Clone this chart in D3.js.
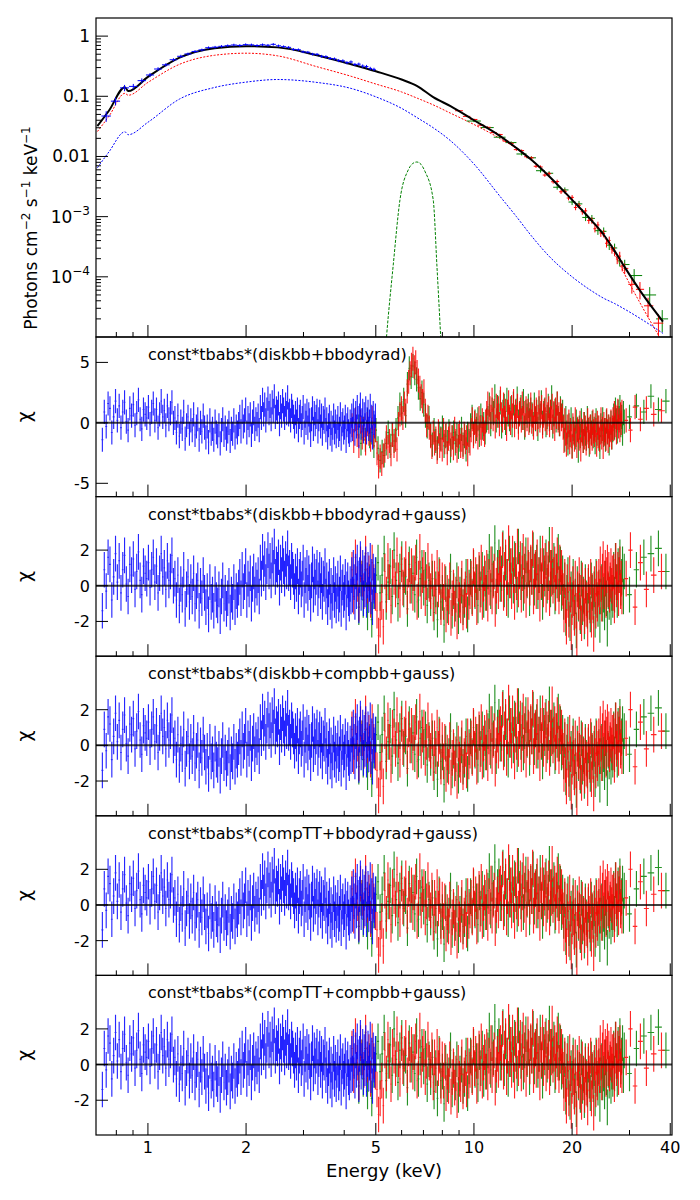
<!DOCTYPE html>
<html>
<head>
<meta charset="utf-8">
<script src="https://cdn.jsdelivr.net/npm/d3@7"></script>
<style>
  body { margin: 0; background: #fff; }
  svg { font-family: "DejaVu Sans", sans-serif; }
</style>
</head>
<body>
<div id="chart"></div>
<script>
// model components (keV, photons cm-2 s-1 keV-1)
const modelE = [0.7, 0.76, 0.85, 0.87, 1.0, 1.25, 1.6, 2.0, 2.5, 3.3, 4.2, 5.0, 6.0, 6.7, 7.5, 8.5, 10, 12, 13.5, 15, 17, 20, 23, 25, 27, 29, 33, 38];
const modelTotal = [0.032, 0.058, 0.142, 0.122, 0.21, 0.44, 0.63, 0.68, 0.65, 0.48, 0.34, 0.26, 0.19, 0.148, 0.097, 0.068, 0.040, 0.022, 0.0138, 0.0088, 0.0047, 0.0019, 0.00085, 0.0005, 0.00027, 0.000145, 0.00005, 0.000018];
const modelDisk = [0.026, 0.047, 0.112, 0.104, 0.17, 0.34, 0.48, 0.52, 0.47, 0.31, 0.215, 0.16, 0.118, 0.093, 0.072, 0.052, 0.034, 0.020, 0.0135, 0.0086, 0.0046, 0.0019, 0.00082, 0.00047, 0.00024, 0.00011, 0.00003, 0.000008];
const modelBbody = [0.0065, 0.012, 0.0257, 0.023, 0.037, 0.09, 0.14, 0.172, 0.19, 0.17, 0.135, 0.098, 0.063, 0.044, 0.03, 0.018, 0.0075, 0.0022, 0.001, 0.00048, 0.00022, 0.0001, 0.000058, 0.000044, 0.000036, 0.000029, 0.000019, 0.0000115];
const gaussE = [5.3, 5.40, 5.65, 5.93, 6.29, 6.48, 6.68, 6.88, 7.07, 7.50, 7.70, 7.90, 8.0];
const gaussF = [3e-6, 1.1e-5, 1.5e-4, 1.9e-3, 6.0e-3, 7.6e-3, 8.1e-3, 7.4e-3, 5.7e-3, 1.9e-3, 1.5e-4, 1.1e-5, 3e-6];

// unfolded spectrum points
const specBlueRange = [0.72, 5.0];
const specBlueF = [0.047, 0.083, 0.138, 0.146, 0.182, 0.226, 0.284, 0.333, 0.405, 0.462,
  0.505, 0.556, 0.590, 0.642, 0.655, 0.676, 0.693, 0.712, 0.700, 0.722,
  0.715, 0.698, 0.718, 0.705, 0.730, 0.690, 0.668, 0.650, 0.602, 0.594,
  0.548, 0.540, 0.502, 0.498, 0.462, 0.455, 0.425, 0.418, 0.392, 0.388,
  0.362, 0.372, 0.338, 0.342, 0.318, 0.312, 0.290, 0.280];
const specBlueErr = [0.2, 0.15, 0.12, 0.1, 0.09, 0.08, 0.07, 0.065, 0.06, 0.06,
  0.055, 0.055, 0.05, 0.05, 0.05, 0.05, 0.05, 0.05, 0.05, 0.05,
  0.05, 0.05, 0.05, 0.05, 0.05, 0.05, 0.05, 0.05, 0.05, 0.05,
  0.05, 0.05, 0.05, 0.05, 0.055, 0.055, 0.055, 0.055, 0.06, 0.06,
  0.06, 0.06, 0.06, 0.06, 0.065, 0.065, 0.065, 0.065];
const specRedE = [9.0, 9.5, 10, 10.5, 11, 11.5, 12, 12.5, 13, 13.5, 14, 14.5, 15, 15.5, 16, 16.5, 17, 17.5, 18, 18.5,
  19, 19.5, 20, 20.5, 21, 21.5, 22, 22.5, 23, 23.5, 24, 24.5, 25, 25.5, 26, 26.5, 27, 27.5, 28, 28.5, 29,
  30.5, 32.3, 34.2, 36.8];
const specRedF = [0.0575, 0.0464, 0.0412, 0.0331, 0.0305, 0.0250, 0.0231, 0.0180, 0.0165, 0.0130, 0.0125, 0.0099,
  0.0095, 0.00687, 0.00669, 0.00491, 0.00517, 0.0038, 0.00383, 0.00259, 0.00263, 0.00204, 0.00209, 0.00142,
  0.00153, 0.00121, 0.00125, 0.000864, 0.000867, 0.000629, 0.000728, 0.000536, 0.000525, 0.000361, 0.000402,
  0.000289, 0.000265, 0.000198, 0.000221, 0.000152, 0.000138, 0.000075, 0.000062, 0.000033, 0.000017];
const specRedErr = [0.03, 0.03, 0.03, 0.03, 0.03, 0.03, 0.035, 0.04, 0.04, 0.045, 0.045, 0.05, 0.05,
  0.06, 0.06, 0.065, 0.07, 0.07, 0.075, 0.08, 0.08, 0.085, 0.09, 0.1, 0.1, 0.11, 0.11, 0.12, 0.12, 0.13, 0.13,
  0.14, 0.14, 0.15, 0.16, 0.16, 0.17, 0.18, 0.18, 0.19, 0.2, 0.3, 0.32, 0.36, 0.4];
const specGreenE = [10, 11, 12, 13, 14, 15, 16, 17, 18, 19, 20, 21, 22, 23, 24, 25, 26, 27, 28, 29, 31.0, 34.6, 37.8];
const specGreenF = [0.0388, 0.0302, 0.0209, 0.0170, 0.0110, 0.0095, 0.0058, 0.00526, 0.00308, 0.00278, 0.00175,
  0.00163, 0.00097, 0.000935, 0.000585, 0.00057, 0.000336, 0.000302, 0.000183, 0.00016, 0.000105, 0.00005, 0.00002];
const specGreenErr = [0.04, 0.04, 0.045, 0.05, 0.055, 0.06, 0.07, 0.08, 0.09, 0.1, 0.11, 0.12, 0.13, 0.14, 0.15,
  0.16, 0.17, 0.18, 0.19, 0.2, 0.28, 0.35, 0.4];

// residuals (chi), energy ranges of the binned channels
const blueRange = [0.72, 5.0];
const redRange = [4.2, 28.5];
const greenRange = [4.4, 29];
const blueChi = [-1.4, 0.9, -0.3, 1.6, 1.2, -0.8, 0.5, 1.8,
  0.2, 1.4, -0.4, 0.9, 1.7, 0.1, -0.6, 1.2, 0.6, 1.5, -0.2, 0.8, 1.9, 0.3, -0.5, 1.1, 0.7, 0.4,
  1.3, -0.1, 0.9, 1.6, 0.2, 1.1, -0.4, 0.7, 1.8, 0.5, 1.0, -0.2, 1.4, 0.3, 0.8, 1.7, 0.0,
  0.4, -0.8, 0.6, -1.1, 0.1, -0.5, 0.9, -1.3, -0.2, 0.5, -0.9, 0.2, -0.6, 0.7, -1.0, -0.3, 0.3, -1.4, 0.0, -0.7, 0.6, -0.4,
  -1.2, -0.3, -1.6, 0.2, -0.9, -0.5, -1.4, 0.1, -0.8, -1.1, -0.2, -1.7, -0.6, 0.3, -1.0, -0.4, -1.3, -0.7, 0.0, -1.5,
  -0.5, -0.9, 0.2, -1.2, -0.3, -0.8, -0.1,
  0.5, -0.7, 0.9, -0.3, 0.2, 1.1, -0.8, 0.4, -0.2, 0.7, -1.0, 0.1, 0.8, -0.5, 0.3, -0.1, 0.6, -0.6,
  1.3, 0.4, 1.9, 0.7, 1.5, 0.2, 1.1, 2.0, 0.8, 1.4, 0.3, 1.7, 1.0, 2.2, 0.5, 1.2, 0.9, 1.6, -0.1, 1.3,
  0.6, 1.8, 1.1, 0.4, 1.5, 0.8, 2.1, 0.7, 1.0, 0.2, 1.4, 0.9, 0.5,
  -0.3, 0.8, 0.1, 1.1, -0.6, 0.5, 0.9, -0.2, 0.4, 1.3, -0.8, 0.6, 0.0, 1.0, -0.4, 0.7, 0.2, -1.0, 0.3, 1.2,
  -0.5, 0.8, -0.1, 0.5, 1.0, -0.7, 0.3, 0.9, -0.3, 0.6, -0.9, 0.4, 0.1, 1.1,
  -0.6, 0.3, -1.2, -0.2, 0.5, -0.9, 0.0, -1.4, -0.4, 0.6, -0.8, 0.1, -1.1, -0.3, 0.4, -1.0, -0.5, 0.7, -1.3, -0.1,
  0.2, -0.8, -0.4, 0.5, -1.5, -0.2, 0.3, -0.7, -1.0, 0.1, -0.6,
  0.6, -0.5, 1.0, 0.2, -0.9, 0.8, -0.3, 1.3, 0.4, -1.1, 0.6, 1.5, -0.4, 0.2, 1.0, -0.7, 0.7, -0.2, 1.2, -0.8,
  0.3, 0.9, -0.5, 0.1, 1.4, -0.6, 0.5, -1.2, 0.8, 0.0, -0.3, 0.6];

// fit without the gaussian
const redChiA = [-0.2, -1.5, 0.3, -1.0, -1.9, 0.1, -1.2, -0.5, -1.7, -0.1, -0.9, -1.4, 0.4, -1.1, -0.6,
  -2.5, -3.6, -2.8, -3.4, -2.7,
  -2.3, -1.2, -2.0, -1.5, -2.6, -1.0, -1.9, -1.4, -2.2,
  -0.1, 0.7, 1.2, 0.4, 1.6, 1.0,
  2.6, 3.4, 4.1, 4.8, 5.3, 4.6, 5.0, 4.2,
  3.5, 2.9, 2.2, 1.8, 2.6,
  1.0, -0.2, 0.5, -0.4,
  -1.1, -2.0, -0.8, -1.7, -1.3, -2.4, -0.7, -1.9, -1.4, -2.2, -0.6, -1.6, -1.0, -2.5, -1.3, -0.9, -1.8, -1.2, -2.1, -0.5,
  -1.5, -2.3, -1.1, -0.8, -1.9, -1.4, -2.0, -0.9, -1.6, -1.2, -2.6, -1.0, -1.7,
  -0.6, 0.3, -1.1, 0.0, -0.7, -0.2, -1.2, 0.4, -0.4, -0.9, 0.2, -0.5, -1.0, 0.1,
  0.8, 1.6, 0.1, 1.2, 0.5, 1.9, 0.3, 1.0, -0.3, 1.4, 0.6, 1.2, -0.1, 2.0, 0.7, 0.2, 1.5, 0.4, 1.0, -0.5,
  0.9, 1.7, 0.5, 0.0, 1.3, 0.6, 1.8, -0.2, 0.9, 0.5, 1.4, -0.4, 0.7, 1.1, 0.2, 1.6, 0.4, 0.8, -0.2, 1.2,
  0.3, 1.0, 0.0, 0.7, 1.5, 0.1, 0.6, -0.4, 0.9, 0.4, 1.1, -0.1, 0.5, 1.7, 0.2, 0.8, 1.3, -0.3, 0.6, 1.0,
  0.3, 1.9, 0.0, 0.7, 1.2, -0.2, 0.9, 0.4, 1.4, 0.1, 0.8, -0.5, 1.1, 0.5, 1.6, 0.2, 0.7, -0.1, 1.0, 0.3, 0.6,
  -0.4, -1.5, 0.2, -0.9, -1.8, -0.3, -1.2, 0.1, -1.6, -0.6, -1.1, -2.0, -0.2, -0.8, -1.4, 0.3, -1.0, -1.9, -0.5, -0.7,
  -1.3, 0.0, -2.2, -0.6, -0.9, -1.5, -0.1, -1.2, -0.4, -1.7, -0.8, 0.2, -1.1, -0.5, -1.6, -0.3, -0.9, -1.3, 0.1, -0.7,
  -1.0, -0.2, -0.6, -1.8, 0.0, -1.1, -0.4, -1.4, -0.8, 0.3, -1.2, -0.5, -2.0, -0.1, -0.9, -0.6, -1.3, 0.2, -0.7, -1.5,
  -0.3, -1.0, -0.6, 0.1, -1.2, -0.4,
  0.3, -0.5, 0.8, -0.2, 0.5, -0.8, 0.4, 1.0, -0.3, 0.2, -0.6, 0.7, 0.0, 0.9];
const greenChiA = [-0.3, -1.7, -0.5, -1.4, 0.2, -1.1, -0.8, -1.9, -0.6,
  -2.1, -3.1, -2.4, -2.7,
  -1.7, -0.8, -1.9, -1.0, -1.5, -0.6,
  0.4, 1.5, 0.8, 1.9, 0.6,
  3.2, 4.5, 3.8, 4.7, 4.1, 3.6,
  2.9, 2.0, 2.5, 1.5,
  0.6, -0.3, 0.4,
  -1.0, -1.8, -0.6, -1.5, -2.1, -0.9, -1.3, -0.4, -1.9, -1.1, -1.6, -0.7, -2.3, -1.2, -0.8, -1.7, -1.0, -2.0, -1.4, -0.5,
  -1.8, -1.1, -2.2, -0.9, -1.5,
  -0.2, 0.5, -0.9, 0.1, -0.5, 0.3, -1.0, 0.6, -0.4, -0.1, -0.8, 0.2,
  0.4, 1.5, -0.1, 1.1, 0.8, 2.2, 0.2, 1.3, 0.6, 1.7, -0.3, 0.9, 1.4, 0.0, 1.9, 0.7, 0.3, 1.2, -0.2, 1.6,
  0.5, 1.0, 2.0, 0.1, 0.8, 1.3, 0.4, 1.8, -0.4, 0.9, 0.6, 1.4, 0.2, 1.1, 0.7, -0.1, 1.5, 0.3, 0.9, -0.5,
  1.2, 0.6, 1.7, 0.0, 0.8, 1.1, -0.2, 0.5, 1.4, 0.3, 0.9, 2.1, -0.3, 0.7, 1.0, 0.2, 1.6, 0.4, -0.1, 1.2, 0.6, 0.9,
  -0.3, -1.4, 0.4, -0.8, -1.7, -0.2, -1.0, 0.3, -1.9, -0.5, -0.9, -1.2, 0.1, -0.6, -2.3, -0.4, -1.1, 0.2, -0.7, -1.5,
  -0.1, -0.9, -1.3, 0.4, -0.6, -1.8, -0.3, -0.8, 0.0, -1.1, -0.5, -1.6, 0.2, -0.9, -0.4, -1.3, -2.0, -0.2, -0.7, 0.3,
  -1.0, -0.6, -1.4, 0.1, -0.8, -0.3, -1.7, -0.5, 0.0, -1.2, -0.6,
  0.6, -0.4, 1.1, 0.2, -0.7, 0.9, 0.4, 1.3, -0.2, 0.5, -0.9, 0.8, 0.1];
// wide high-energy bins: [energy, half width, chi]
const redWideA = [[29.3, 0.4, 0.2], [30.2, 0.45, -0.6], [31.2, 0.5, 1.3], [32.4, 0.55, 0.3], [33.8, 0.6, 1.2], [35.6, 0.7, 0.7], [37.6, 0.9, 1.0]];
const greenWideA = [[30.0, 0.5, 0.5], [31.5, 0.6, 1.4], [33.2, 0.7, 0.9], [34.9, 0.8, 2.2], [36.8, 0.9, 1.1], [38.8, 1.0, 1.8]];

// fits with the gaussian line
const redChiB = [0.9, -0.6, 1.6, 0.1, -1.0, 1.2, 0.4, -0.3, 1.8, 0.0, 0.7, -0.8, 1.3, 0.2, -0.4,
  -1.4, -2.8, -1.9, -0.9, -2.3,
  0.8, -0.5, 1.4, 0.2, -1.1, 1.0, 0.5, -0.2, 1.7, 0.3, -0.8, 1.2, -0.1, 0.6, 1.5, -0.6, 0.9, 0.0, 1.1, -0.4,
  0.7, 1.3, -0.9, 0.4, 1.9, -0.3, 0.6, 1.0, -0.7, 0.2, 1.4, 0.1,
  -0.3, 0.8, -1.0, 0.4, -0.6, 1.0, -0.2, 0.5, -1.2, 0.3,
  -0.9, 0.2, -1.6, -0.4, -1.2, 0.3, -1.8, -0.7, -0.1, -1.3, -0.5, -2.0, 0.1, -0.8, -1.1, 0.4, -1.5, -0.6, -0.2, -1.4,
  0.5, -0.9, -0.3,
  0.4, -0.7, 1.1, -0.2, 0.6, -1.2, 0.2, 0.9, -0.5, 1.3, -0.9, 0.1, 0.7, -0.4, 1.0, -1.0, 0.5, -0.1, 1.2, -0.6,
  0.3, 0.8, -1.3, 0.0, 0.6, -0.3, 1.0,
  1.2, 0.1, 2.0, -0.4, 0.9, 1.6, -0.7, 0.5, 2.4, 0.3, 1.1, -0.3, 1.8, 0.6, -0.9, 1.4, 0.2, 2.2, -0.2, 0.8,
  1.5, -0.5, 0.7, 1.9, 0.0, 1.2, -0.8, 0.4, 1.7, 0.9, -0.1, 1.3, 0.5, 2.1, -0.6, 0.8, 1.0, -0.3, 1.6, 0.2,
  0.6, -1.0, 1.1, 0.3, 1.8, -0.2, 0.7, 1.4, -0.5, 0.9, 0.2, 1.5, -0.7, 1.0, 0.4, 2.3, 0.0, 0.6, 1.2, -0.4,
  0.8, 1.7, 0.1, -0.6, 1.3, 0.5, 1.0, -0.1,
  -0.3, -1.6, 0.5, -1.1, -2.3, 0.2, -0.8, -1.9, 0.7, -0.5, -2.6, -1.2, 0.1, -0.7, -1.8, 0.4, -1.4, -3.0, -0.2, -0.9,
  0.6, -1.5, -0.4, -2.1, 0.3, -1.0, -0.6, -1.7, 0.0, -1.3, -0.8, -2.4, 0.2, -0.5, -1.1, 0.5, -1.9, -0.3, -0.9, -2.7,
  0.1, -0.6, -1.4, 0.4, -1.0, -0.2,
  0.5, -0.6, 1.2, 0.1, -1.0, 0.8, 1.5, -0.3, 0.4, 1.0, -0.8, 0.6, 1.3, -0.2, 0.9, -0.5, 0.3, 1.1, 0.0, 0.7,
  -0.4, 0.8, -1.1, 0.5, 1.4, -0.2, 0.2, 0.9, -0.7, 0.6, 1.2, -0.3, 0.4, -0.6];
const greenChiB = [-1.2, 0.4, -0.8, 0.9, -1.5, 0.2, -1.9, -0.3, 0.6,
  1.3, -0.4, 0.6, 1.8, -0.9, 0.2, 1.1, -0.6, 2.0, 0.3, -1.0, 0.8, 1.5, -0.2, 0.5, -1.3, 1.2, 0.0, 0.7, -0.5,
  1.6, -0.8, 0.4, 1.0, -0.1, 0.9, -1.1, 0.3,
  -0.7, 0.4, -1.5, -0.2, -1.9, 0.6, -0.9, -0.4, -2.2, 0.1, -1.1, -0.6, 0.8, -1.4, -0.3, -1.0, 0.3, -1.7, -0.5, 0.0,
  -1.2, -0.8, 0.5, -1.6, -0.1,
  0.5, -0.6, 1.0, -0.3, 0.2, -1.1, 0.7, -0.2, 0.9, -0.8, 0.4, -0.4,
  0.8, 1.9, -0.3, 1.2, 0.4, 2.4, -0.6, 1.0, 1.6, 0.1, 0.7, 2.1, -0.2, 1.3, 0.5, -0.8, 1.8, 0.3, 1.1, 0.0,
  1.5, 0.6, -0.5, 2.2, 0.9, 0.2, 1.4, -0.4, 0.8, 1.7, 0.3, 1.0, -0.7, 1.2, 0.5, 2.0, -0.1, 0.9, 1.3, -0.3,
  0.6, 1.8, 0.2, -0.9, 1.1, 0.4, 1.6, 0.0, 0.7, 2.3, -0.2, 1.0, 0.5, 1.4, -0.6, 0.8, 0.3, 1.9, 0.1, 1.2, -0.4, 0.7,
  -0.9, 0.3, -1.8, -0.4, 0.6, -1.3, -2.1, -0.2, -0.8, 0.5, -1.5, -0.6, -2.5, 0.1, -1.0, -0.3, -1.7, 0.4, -1.2, -0.5,
  -2.0, 0.2, -0.7, -1.4, 0.0, -0.9, -1.6, 0.3, -0.4, -1.1, -0.2, -1.9, 0.5, -0.8, -1.3, -0.1, -2.2, -0.6, 0.2, -1.0,
  -0.5, -1.5, 0.4, -0.7, -2.4, -0.3, -0.9, 0.1, -1.2, -0.4, -0.8,
  0.9, -0.5, 1.4, 0.2, -0.8, 1.1, 0.6, 1.6, -0.1, 0.5, 1.2, -0.6, 0.8];
const redWideB = [[29.3, 0.4, 0.4], [30.2, 0.45, 2.0], [31.2, 0.5, -1.2], [32.4, 0.55, 1.3], [33.8, 0.6, -0.2], [35.6, 0.7, 0.6], [37.6, 0.9, 0.8]];
const greenWideB = [[30.0, 0.5, -0.5], [31.5, 0.6, 0.9], [33.2, 0.7, 1.6], [34.9, 0.8, 1.8], [36.8, 0.9, 2.1], [38.8, 1.0, 0.8]];

const panelTitles = ["const*tbabs*(diskbb+bbodyrad)", "const*tbabs*(diskbb+bbodyrad+gauss)",
  "const*tbabs*(diskbb+compbb+gauss)", "const*tbabs*(compTT+bbodyrad+gauss)", "const*tbabs*(compTT+compbb+gauss)"];
const panelSets = ["A", "B", "B", "B", "B"];
const energyTicks = [1, 2, 5, 10, 20, 40];
const energyMinor = [0.8, 0.9, 3, 4, 6, 7, 8, 9, 30];
const fluxTicks = [1, 0.1, 0.01, 1e-3, 1e-4];
const fluxLabels = [["1"], ["0.1"], ["0.01"], ["10", "\u22123"], ["10", "\u22124"]];

// ---- layout ----
const largura = 700, altura = 1200;
const esq = 96, dir = 672;
const topo = 18, baseTopo = 337, alturaRes = 159.6;
const azul = "#0000ff", vermelho = "#ff0000", verde = "#008000";

const svg = d3.select("#chart").append("svg")
  .attr("width", largura).attr("height", altura);

const x = d3.scaleLog().domain([0.693, 40.5]).range([esq, dir]);
const yFlux = d3.scaleLog().domain([1e-5, 2]).range([baseTopo, topo]);
const fluxMinor = yFlux.ticks().filter(d => !fluxTicks.some(t => Math.abs(d / t - 1) < 1e-6) && d < 1.9 && d > 1.05e-5);

// bins whose sqrt(E) is evenly spaced between the range limits
function gridBins(range, n) {
  const s = d3.scalePow().exponent(0.5).domain(range).range([0, n]);
  return d3.range(n).map(i => ({ lo: s.invert(i), e: s.invert(i + 0.5), hi: s.invert(i + 1) }));
}
// bins from explicit energies, edges half way between neighbours
function listBins(es) {
  return es.map((e, i) => {
    const lo = i > 0 ? (e + es[i - 1]) / 2 : e - (es[1] - e) / 2;
    const hi = i < es.length - 1 ? (e + es[i + 1]) / 2 : e + (e - es[i - 1]) / 2;
    return { lo, e, hi };
  });
}

function clip(id, y0, h) {
  svg.append("clipPath").attr("id", id)
    .append("rect").attr("x", esq).attr("y", y0).attr("width", dir - esq).attr("height", h);
}

function xTicks(yb) {
  const g = svg.append("g").attr("stroke", "#000").attr("stroke-width", 1);
  g.selectAll(".maj").data(energyTicks).join("line")
    .attr("x1", d => x(d)).attr("x2", d => x(d)).attr("y1", yb).attr("y2", yb - 12);
  g.selectAll(".min").data(energyMinor).join("line")
    .attr("x1", d => x(d)).attr("x2", d => x(d)).attr("y1", yb).attr("y2", yb - 5);
}

// ---- top panel: unfolded spectrum ----
clip("clipTopo", topo, baseTopo - topo);
const gTopo = svg.append("g").attr("clip-path", "url(#clipTopo)");

const linha = (es, fs) => d3.line().curve(d3.curveMonotoneX)
  .x((d, i) => x(es[i])).y(d => yFlux(d))(fs);

gTopo.append("path").attr("d", linha(modelE, modelDisk))
  .attr("fill", "none").attr("stroke", vermelho).attr("stroke-width", 1).attr("stroke-dasharray", "2,1.5");
gTopo.append("path").attr("d", linha(modelE, modelBbody))
  .attr("fill", "none").attr("stroke", azul).attr("stroke-width", 1).attr("stroke-dasharray", "2,1.5");
gTopo.append("path").attr("d", linha(gaussE, gaussF))
  .attr("fill", "none").attr("stroke", verde).attr("stroke-width", 1).attr("stroke-dasharray", "3,1.5");

function specPoints(bins, fs, errs) {
  return bins.map((b, i) => ({ ...b, f: fs[i], err: errs[i] }));
}
function drawSpec(pts, cor) {
  gTopo.append("g").selectAll("path").data(pts).join("path")
    .attr("d", d => `M${x(d.e)},${yFlux(d.f * (1 - d.err))}V${yFlux(d.f * (1 + d.err))}M${x(d.lo)},${yFlux(d.f)}H${x(d.hi)}`)
    .attr("fill", "none").attr("stroke", cor).attr("stroke-width", 1);
}
drawSpec(specPoints(listBins(specGreenE), specGreenF, specGreenErr), verde);
drawSpec(specPoints(listBins(specRedE), specRedF, specRedErr), vermelho);

gTopo.append("path").attr("d", linha(modelE, modelTotal))
  .attr("fill", "none").attr("stroke", "#000").attr("stroke-width", 2);

drawSpec(specPoints(gridBins(specBlueRange, specBlueF.length), specBlueF, specBlueErr), azul);

svg.append("rect").attr("x", esq).attr("y", topo).attr("width", dir - esq).attr("height", baseTopo - topo)
  .attr("fill", "none").attr("stroke", "#000").attr("stroke-width", 1.2);
xTicks(baseTopo);

const gy = svg.append("g").attr("stroke", "#000").attr("stroke-width", 1);
gy.selectAll(".maj").data(fluxTicks).join("line")
  .attr("x1", esq).attr("x2", esq + 12).attr("y1", d => yFlux(d)).attr("y2", d => yFlux(d));
gy.selectAll(".min").data(fluxMinor).join("line")
  .attr("x1", esq).attr("x2", esq + 5).attr("y1", d => yFlux(d)).attr("y2", d => yFlux(d));

const rotulos = svg.append("g").selectAll("text").data(fluxTicks).join("text")
  .attr("x", esq - 6).attr("y", d => yFlux(d) + 6)
  .attr("text-anchor", "end").attr("font-size", 17).attr("fill", "#000");
rotulos.each(function (d, i) {
  const t = d3.select(this);
  const lab = fluxLabels[i];
  t.append("tspan").text(lab[0]);
  if (lab[1]) t.append("tspan").attr("dy", -8).attr("font-size", 12).text(lab[1]);
});

const ylab = svg.append("text")
  .attr("transform", "translate(37,228) rotate(-90)")
  .attr("text-anchor", "middle").attr("font-size", 17).attr("fill", "#000");
ylab.append("tspan").text("Photons cm");
ylab.append("tspan").attr("dy", -7).attr("font-size", 12).text("\u22122");
ylab.append("tspan").attr("dy", 7).text(" s");
ylab.append("tspan").attr("dy", -7).attr("font-size", 12).text("\u22121");
ylab.append("tspan").attr("dy", 7).text(" keV");
ylab.append("tspan").attr("dy", -7).attr("font-size", 12).text("\u22121");

// ---- residual panels ----
const blueBins = gridBins(blueRange, blueChi.length);
const redBins = gridBins(redRange, redChiA.length);
const greenBins = gridBins(greenRange, greenChiA.length);
const wideBins = arr => arr.map(d => ({ lo: d[0] - d[1], e: d[0], hi: d[0] + d[1], v: d[2] }));
const withChi = (bins, chi) => bins.map((b, i) => ({ ...b, v: chi[i] }));

const conjuntos = {
  A: { dom: [-6.1, 7.1], ticks: [-5, 0, 5],
       red: withChi(redBins, redChiA).concat(wideBins(redWideA)),
       green: withChi(greenBins, greenChiA).concat(wideBins(greenWideA)) },
  B: { dom: [-3.95, 5.0], ticks: [-2, 0, 2],
       red: withChi(redBins, redChiB).concat(wideBins(redWideB)),
       green: withChi(greenBins, greenChiB).concat(wideBins(greenWideB)) }
};
const bluePts = withChi(blueBins, blueChi);

panelTitles.forEach((titulo, p) => {
  const y0 = baseTopo + p * alturaRes;
  const y1 = y0 + alturaRes;
  const c = conjuntos[panelSets[p]];
  const y = d3.scaleLinear().domain(c.dom).range([y1, y0]);

  clip("clipRes" + p, y0, alturaRes);
  const g = svg.append("g").attr("clip-path", `url(#clipRes${p})`);

  const barras = (pts, cor) => g.append("g").selectAll("path").data(pts).join("path")
    .attr("d", d => `M${x(d.e)},${y(d.v - 1)}V${y(d.v + 1)}M${x(d.lo)},${y(d.v)}H${x(d.hi)}`)
    .attr("fill", "none").attr("stroke", cor).attr("stroke-width", 1.15).attr("stroke-opacity", 0.85);
  barras(c.green, verde);
  barras(c.red, vermelho);
  barras(bluePts, azul);

  g.append("line").attr("x1", esq).attr("x2", dir).attr("y1", y(0)).attr("y2", y(0))
    .attr("stroke", "#000").attr("stroke-width", 2).attr("stroke-opacity", 0.75);

  svg.append("rect").attr("x", esq).attr("y", y0).attr("width", dir - esq).attr("height", alturaRes)
    .attr("fill", "none").attr("stroke", "#000").attr("stroke-width", 1.2);
  xTicks(y1);

  svg.append("g").selectAll("line").data(c.ticks).join("line")
    .attr("x1", esq).attr("x2", esq + 12).attr("y1", d => y(d)).attr("y2", d => y(d))
    .attr("stroke", "#000").attr("stroke-width", 1);
  svg.append("g").selectAll("text").data(c.ticks).join("text")
    .attr("x", esq - 6).attr("y", d => y(d) + 6)
    .attr("text-anchor", "end").attr("font-size", 16).attr("fill", "#000")
    .text(d => d < 0 ? "-" + Math.abs(d) : d);

  svg.append("text").attr("x", x(1)).attr("y", y0 + 23)
    .attr("font-size", 16).attr("fill", "#000").text(titulo);

  svg.append("text")
    .attr("transform", `translate(31,${(y0 + y1) / 2}) rotate(-90)`)
    .attr("text-anchor", "middle").attr("font-size", 19).attr("fill", "#000").text("\u03c7");
});

// energy axis labels
const yBase = baseTopo + panelTitles.length * alturaRes;
svg.append("g").selectAll("text").data(energyTicks).join("text")
  .attr("x", d => x(d)).attr("y", yBase + 18)
  .attr("text-anchor", "middle").attr("font-size", 16).attr("fill", "#000")
  .text(d => d);
svg.append("text").attr("x", (esq + dir) / 2).attr("y", yBase + 42)
  .attr("text-anchor", "middle").attr("font-size", 18).attr("fill", "#000")
  .text("Energy (keV)");
</script>
</body>
</html>
